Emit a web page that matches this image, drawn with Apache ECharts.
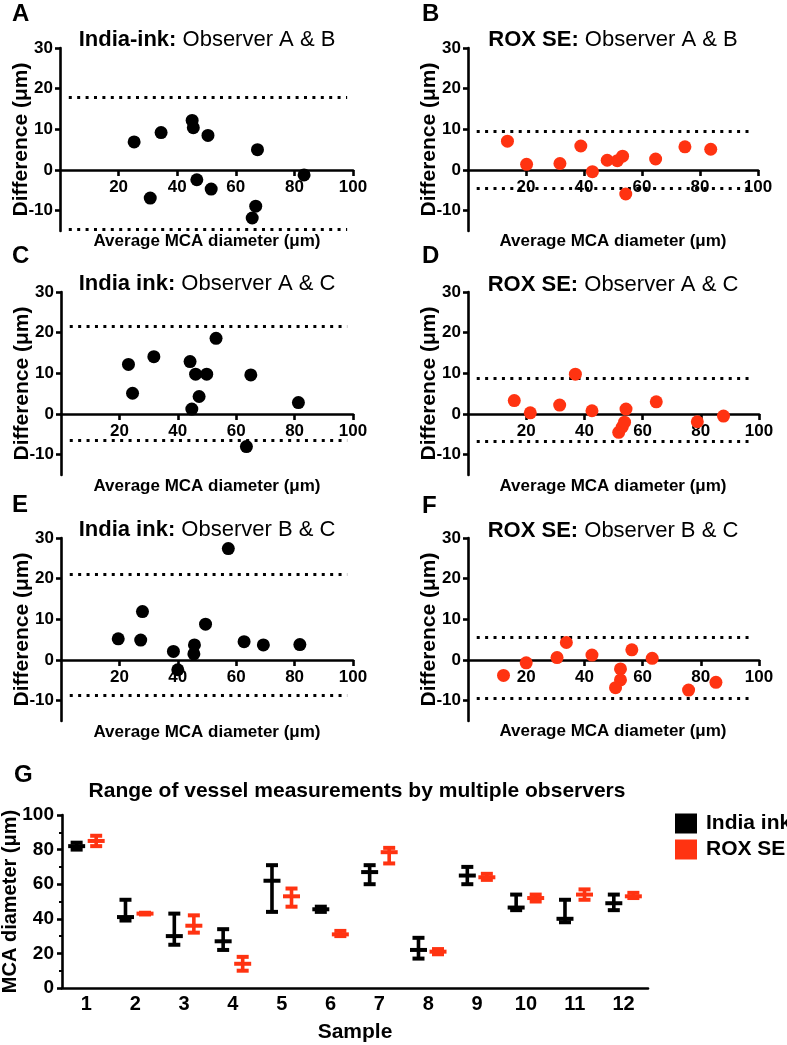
<!DOCTYPE html>
<html>
<head>
<meta charset="utf-8">
<script src="https://cdn.jsdelivr.net/npm/echarts@6/dist/echarts.min.js"></script>
<style>
html,body{margin:0;padding:0;background:#fff;}
#chart{width:787px;height:1045px;}
</style>
</head>
<body>
<div id="chart"></div>
<script>
// ---------- DATA ----------
// Bland-Altman panels: x = average MCA diameter, y = difference
const inkAB_x = [25.3, 30.8, 34.5, 45.1, 45.5, 46.7, 50.5, 51.6, 67.4, 66.8, 65.6, 83.3];
const inkAB_y = [6.9, -6.9, 9.2, 12.2, 10.4, -2.4, 8.5, -4.7, 5.0, -8.9, -11.8, -1.2];
const inkAB_limits = [17.8, -14.6];

const roxAB_x = [13.6, 20.2, 31.7, 38.9, 42.9, 48.0, 51.5, 53.3, 54.4, 64.7, 74.8, 83.7];
const roxAB_y = [7.1, 1.4, 1.6, 5.9, -0.4, 2.4, 2.3, 3.4, -5.9, 2.7, 5.7, 5.1];
const roxAB_limits = [9.6, -4.5];

const inkAC_x = [23.1, 24.5, 31.8, 44.2, 44.8, 46.1, 47.3, 49.9, 53.1, 65.0, 81.3, 63.5];
const inkAC_y = [12.2, 5.1, 14.1, 12.9, 1.2, 9.8, 4.3, 9.8, 18.6, 9.6, 2.8, -8.0];
const inkAC_limits = [21.5, -6.4];

const roxAC_x = [15.9, 21.4, 31.5, 36.9, 42.6, 51.8, 53.0, 53.8, 54.3, 64.7, 78.8, 87.8];
const roxAC_y = [3.3, 0.3, 2.2, 9.8, 0.8, -4.5, -3.2, -2.0, 1.2, 3.0, -1.9, -0.5];
const roxAC_limits = [8.8, -6.8];

const inkBC_x = [19.6, 27.3, 27.9, 38.5, 40.0, 45.7, 45.5, 49.5, 57.3, 62.7, 69.3, 81.8];
const inkBC_y = [5.2, 4.9, 11.9, 2.1, -2.4, 3.7, 1.5, 8.8, 27.4, 4.5, 3.7, 3.8];
const inkBC_limits = [21.1, -8.6];

const roxBC_x = [12.2, 20.0, 30.6, 33.8, 42.6, 52.4, 52.4, 50.7, 56.3, 63.3, 75.8, 85.2];
const roxBC_y = [-3.8, -0.7, 0.6, 4.3, 1.2, -2.2, -4.9, -6.8, 2.5, 0.4, -7.4, -5.5];
const roxBC_limits = [5.5, -9.3];

const diffTicks = [-10, 0, 10, 20, 30];
const avgTicks = [20, 40, 60, 80, 100];

// Panel G: range of measurements per sample
const samples = ['1','2','3','4','5','6','7','8','9','10','11','12'];
const inkMin  = [80, 39, 25, 22, 44, 44, 60, 17, 60, 45, 38, 45];
const inkMax  = [84, 51, 43, 34, 71, 47, 71, 29, 70, 54, 51, 54];
const inkMean = [82, 41, 30, 27, 62, 45.5, 67, 22, 65, 46.5, 40, 49];
const roxMin  = [82, 42.5, 32, 10, 47, 30, 72, 19.5, 62.5, 50, 51, 52];
const roxMax  = [88, 43.5, 42, 18, 57.5, 33, 81, 22.5, 66, 54, 57, 55];
const roxMean = [85, 43, 36, 14, 53, 31, 78.5, 21, 64, 52, 54, 53];

// ---------- STYLE ----------
const FONT = "'Liberation Sans', Arial, Helvetica, sans-serif";
const BLACK = '#000000';
const RED = '#ff3311';

const chart = echarts.init(document.getElementById('chart'), null, {renderer: 'canvas'});

const panels = [
  {x: inkAB_x, y: inkAB_y, lim: inkAB_limits, color: BLACK, grid: {left: 60, top: 48, width: 293, height: 183}},
  {x: roxAB_x, y: roxAB_y, lim: roxAB_limits, color: RED,   grid: {left: 468, top: 48, width: 290, height: 183}},
  {x: inkAC_x, y: inkAC_y, lim: inkAC_limits, color: BLACK, grid: {left: 61, top: 292, width: 292, height: 183}},
  {x: roxAC_x, y: roxAC_y, lim: roxAC_limits, color: RED,   grid: {left: 468, top: 292, width: 291, height: 183}},
  {x: inkBC_x, y: inkBC_y, lim: inkBC_limits, color: BLACK, grid: {left: 61, top: 538, width: 292, height: 183}},
  {x: roxBC_x, y: roxBC_y, lim: roxBC_limits, color: RED,   grid: {left: 468, top: 538, width: 291, height: 183}}
];
const Y_MIN = -15, Y_MAX = 30;

const grids = [], xAxes = [], yAxes = [], series = [];
const axisLineStyle = {color: BLACK, width: 2.6};
const tickLabel = {color: BLACK, fontFamily: FONT, fontWeight: 'bold', fontSize: 17};

panels.forEach((p, i) => {
  grids.push(Object.assign({containLabel: false, outerBoundsMode: 'none'}, p.grid));
  // place the x axis on the zero line of the difference axis
  const zeroOffset = -p.grid.height * (0 - Y_MIN) / (Y_MAX - Y_MIN);
  xAxes.push({
    type: 'value', gridIndex: i, min: 0, max: 100, offset: zeroOffset,
    axisLine: {show: true, onZero: false, lineStyle: axisLineStyle},
    axisTick: {show: true, length: 6, lineStyle: axisLineStyle, customValues: avgTicks},
    axisLabel: Object.assign({margin: 9, customValues: avgTicks}, tickLabel),
    splitLine: {show: false}
  });
  yAxes.push({
    type: 'value', gridIndex: i, min: Y_MIN, max: Y_MAX,
    name: 'Difference (μm)', nameLocation: 'middle', nameGap: 28, nameMoveOverlap: false,
    nameTextStyle: {color: BLACK, fontFamily: FONT, fontWeight: 'bold', fontSize: 21},
    axisLine: {show: true, lineStyle: axisLineStyle},
    axisTick: {show: true, length: 5, lineStyle: axisLineStyle, customValues: diffTicks},
    axisLabel: Object.assign({margin: 7, customValues: diffTicks}, tickLabel),
    splitLine: {show: false}
  });
  series.push({
    type: 'scatter', xAxisIndex: i, yAxisIndex: i,
    symbol: 'circle', symbolSize: 13,
    itemStyle: {color: p.color, opacity: 1},
    data: p.x.map((v, k) => [v, p.y[k]]),
    markLine: {
      silent: true, symbol: 'none', z: 1,
      label: {show: false},
      lineStyle: {color: BLACK, width: 3, type: [3, 5.4]},
      data: p.lim.map(v => [{coord: [3, v]}, {coord: [98, v]}])
    },
    z: 3
  });
});

// Panel G
const gIdx = panels.length;
grids.push({left: 62, top: 815, width: 586, height: 173, containLabel: false, outerBoundsMode: 'none'});
xAxes.push({
  type: 'category', gridIndex: gIdx, data: samples,
  name: 'Sample', nameLocation: 'middle', nameGap: 34, nameMoveOverlap: false,
  nameTextStyle: {color: BLACK, fontFamily: FONT, fontWeight: 'bold', fontSize: 21},
  axisLine: {show: true, lineStyle: axisLineStyle},
  axisTick: {show: false},
  axisLabel: {color: BLACK, fontFamily: FONT, fontWeight: 'bold', fontSize: 20, margin: 6},
  splitLine: {show: false}
});
yAxes.push({
  type: 'value', gridIndex: gIdx, min: 0, max: 100, interval: 20,
  name: 'MCA diameter (μm)', nameLocation: 'middle', nameGap: 42, nameMoveOverlap: false,
  nameTextStyle: {color: BLACK, fontFamily: FONT, fontWeight: 'bold', fontSize: 20},
  axisLine: {show: true, lineStyle: axisLineStyle},
  axisTick: {show: true, length: 5, lineStyle: axisLineStyle},
  minorTick: {show: true, splitNumber: 2, length: 3, lineStyle: {color: BLACK, width: 2}},
  axisLabel: {color: BLACK, fontFamily: FONT, fontWeight: 'bold', fontSize: 19, margin: 8},
  splitLine: {show: false}
});

function rangeRenderer(side) {
  return function (params, api) {
    const cat = api.value(0);
    const lo = api.coord([cat, api.value(1)]);
    const hi = api.coord([cat, api.value(2)]);
    const mid = api.coord([cat, api.value(3)]);
    const band = api.size([1, 0])[0];
    const x = lo[0] + side * band * 0.2;
    const color = api.visual('color');
    const st = {stroke: color, lineWidth: 3.6, fill: null};
    const thick = {stroke: color, lineWidth: 4, fill: null};
    const capW = 6, midW = 8.5;
    return {
      type: 'group',
      children: [
        {type: 'line', shape: {x1: x, y1: lo[1], x2: x, y2: hi[1]}, style: st},
        {type: 'line', shape: {x1: x - capW, y1: lo[1], x2: x + capW, y2: lo[1]}, style: thick},
        {type: 'line', shape: {x1: x - capW, y1: hi[1], x2: x + capW, y2: hi[1]}, style: thick},
        {type: 'line', shape: {x1: x - midW, y1: mid[1], x2: x + midW, y2: mid[1]}, style: thick}
      ]
    };
  };
}

series.push({
  name: 'India ink', type: 'custom', xAxisIndex: gIdx, yAxisIndex: gIdx,
  itemStyle: {color: BLACK},
  renderItem: rangeRenderer(-1),
  encode: {x: 0, y: [1, 2, 3]},
  data: samples.map((s, i) => [i, inkMin[i], inkMax[i], inkMean[i]])
});
series.push({
  name: 'ROX SE', type: 'custom', xAxisIndex: gIdx, yAxisIndex: gIdx,
  itemStyle: {color: RED},
  renderItem: rangeRenderer(1),
  encode: {x: 0, y: [1, 2, 3]},
  data: samples.map((s, i) => [i, roxMin[i], roxMax[i], roxMean[i]])
});

// ---------- TEXT ----------
function txt(x, y, text, size, weight, align) {
  return {type: 'text', x: x, y: y, silent: true, style: {
    text: text, fill: BLACK, fontFamily: FONT, fontSize: size, fontWeight: weight || 'normal',
    align: align || 'center', verticalAlign: 'middle'}};
}
function richTitle(x, y, boldPart, normalPart) {
  return {type: 'text', x: x, y: y, silent: true, style: {
    text: '{b|' + boldPart + '}{n| ' + normalPart + '}',
    align: 'center', verticalAlign: 'middle',
    rich: {
      b: {fontFamily: FONT, fontSize: 22, fontWeight: 'bold', fill: BLACK, color: BLACK},
      n: {fontFamily: FONT, fontSize: 22, fontWeight: 'normal', fill: BLACK, color: BLACK}
    }}};
}

const graphics = [
  txt(12, 14, 'A', 24, 'bold', 'left'),
  txt(422, 14, 'B', 24, 'bold', 'left'),
  txt(12, 256, 'C', 24, 'bold', 'left'),
  txt(422, 256, 'D', 24, 'bold', 'left'),
  txt(12, 505, 'E', 24, 'bold', 'left'),
  txt(422, 506, 'F', 24, 'bold', 'left'),
  txt(14, 775, 'G', 24, 'bold', 'left'),
  richTitle(207, 40, 'India-ink:', 'Observer A & B'),
  richTitle(613, 40, 'ROX SE:', 'Observer A & B'),
  richTitle(207, 284, 'India ink:', 'Observer A & C'),
  richTitle(613, 285, 'ROX SE:', 'Observer A & C'),
  richTitle(207, 530, 'India ink:', 'Observer B & C'),
  richTitle(613, 531, 'ROX SE:', 'Observer B & C'),
  txt(207, 241, 'Average MCA diameter (μm)', 17, 'bold'),
  txt(613, 241, 'Average MCA diameter (μm)', 17, 'bold'),
  txt(207, 486, 'Average MCA diameter (μm)', 17, 'bold'),
  txt(613, 486, 'Average MCA diameter (μm)', 17, 'bold'),
  txt(207, 732, 'Average MCA diameter (μm)', 17, 'bold'),
  txt(613, 731, 'Average MCA diameter (μm)', 17, 'bold'),
  txt(357, 791, 'Range of vessel measurements by multiple observers', 21, 'bold')
];

chart.setOption({
  backgroundColor: '#ffffff',
  animation: false,
  grid: grids,
  xAxis: xAxes,
  yAxis: yAxes,
  series: series,
  legend: {
    data: ['India ink', 'ROX SE'],
    orient: 'vertical', left: 670, top: 808,
    icon: 'rect', itemWidth: 22, itemHeight: 20, itemGap: 5,
    textStyle: {color: BLACK, fontFamily: FONT, fontWeight: 'bold', fontSize: 21, padding: [0, 0, 0, 4]},
    selectedMode: false
  },
  graphic: graphics
});
</script>
</body>
</html>
